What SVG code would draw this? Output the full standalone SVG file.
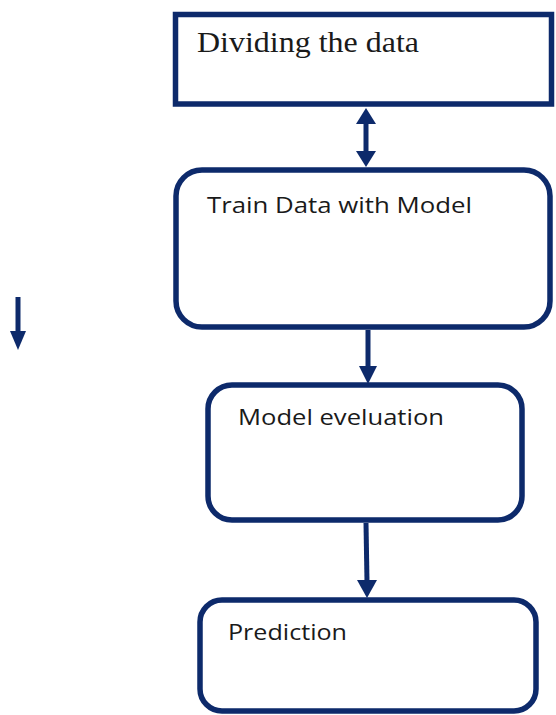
<svg xmlns="http://www.w3.org/2000/svg" width="556" height="715" viewBox="0 0 556 715">
<style>
.box{fill:#fff;stroke:#0d2a6b;stroke-width:5.5}
.lbl{font-family:"Open Sans","Liberation Sans",sans-serif;font-size:21px;fill:#1a1a1a}
.ser{font-family:"Liberation Serif","Times New Roman",serif;font-size:30px;fill:#1a1a1a}
.ln{stroke:#0d2a6b;stroke-width:5;fill:none}
.hd{fill:#0d2a6b}
</style>
<rect width="556" height="715" fill="#fff"/>
<g id="dividing">
<rect class="box" x="175.5" y="14.5" width="376" height="89.5"/>
<text class="ser" x="197" y="52" textLength="222" lengthAdjust="spacingAndGlyphs">Dividing the data</text>
</g>
<g id="train">
<rect class="box" x="176" y="170" width="374" height="157" rx="26"/>
<text class="lbl" x="207" y="213" textLength="265" lengthAdjust="spacingAndGlyphs">Train Data with Model</text>
</g>
<g id="evaluation">
<rect class="box" x="208" y="385" width="314" height="135" rx="24"/>
<text class="lbl" x="238" y="425" textLength="206" lengthAdjust="spacingAndGlyphs">Model eveluation</text>
</g>
<g id="prediction">
<rect class="box" x="200" y="600" width="336" height="111" rx="22"/>
<text class="lbl" x="228" y="640" textLength="119" lengthAdjust="spacingAndGlyphs">Prediction</text>
</g>
<g id="connectors">
<line class="ln" x1="366" y1="122" x2="366" y2="154"/>
<polygon class="hd" points="366,108 376,124 356,124"/>
<polygon class="hd" points="366,167 376,151 356,151"/>
<line class="ln" x1="368" y1="330" x2="368" y2="368"/>
<polygon class="hd" points="368,384 377,366 359,366"/>
<line class="ln" x1="366" y1="523" x2="367" y2="582"/>
<polygon class="hd" points="367,598 377,580 357,580"/>
<line class="ln" x1="18" y1="297" x2="18" y2="334" stroke-width="4"/>
<polygon class="hd" points="18,350 26,331 10,331"/>
</g>
</svg>
